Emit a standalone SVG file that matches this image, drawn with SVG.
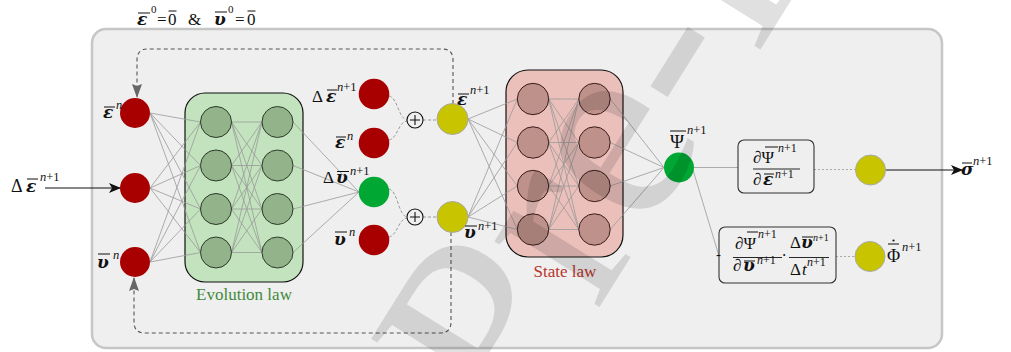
<svg xmlns="http://www.w3.org/2000/svg" width="1011" height="352" viewBox="0 0 1011 352">
<style>
.t{font-family:"Liberation Serif","DejaVu Serif",serif;fill:#111}
.m{font-size:17px}
.s{font-size:12.5px}
.bi{font-family:"DejaVu Serif",serif;font-weight:bold;font-style:italic;font-size:17px}
.i{font-style:italic}
.ov{stroke:#111;stroke-width:1}
.net{fill:none;stroke:#999;stroke-width:0.8}
.dash{fill:none;stroke:#999;stroke-width:1;stroke-dasharray:3 2}
.dot{fill:none;stroke:#aaa;stroke-width:1;stroke-dasharray:2 2}
.loop{fill:none;stroke:#555;stroke-width:1.1;stroke-dasharray:4 3}
.red{fill:#a80000}
.grn{fill:#00a833}
.yel{fill:#c9c400;stroke:#a8a8a8;stroke-width:1}
.gn{fill:#93b38a;stroke:#2c3a28;stroke-width:1}
.rn{fill:#be918a;stroke:#3a1c1a;stroke-width:1}
.fb{stroke:#111;stroke-width:0.9}
.wm{font-family:"Liberation Serif",serif;font-size:270px;fill:#000;fill-opacity:0.12}
</style>
<defs>
<marker id="ab" viewBox="0 0 12 10" refX="11" refY="5" markerWidth="12" markerHeight="10" markerUnits="userSpaceOnUse" orient="auto">
<path d="M0 0L12 5L0 10L3 5Z" fill="#111"/>
</marker>
<marker id="ag" viewBox="0 0 14 10" refX="13" refY="5" markerWidth="14" markerHeight="10" markerUnits="userSpaceOnUse" orient="auto">
<path d="M0 0L14 5L0 10L2 5Z" fill="#666"/>
</marker>
</defs>

<rect x="92" y="29" width="850" height="319" rx="14" fill="#efefef" stroke="#c6c6c6" stroke-width="2.5"/>

<g id="init-text">
<text class="t bi" x="137" y="25">ε</text>
<line class="ov" x1="138" y1="13" x2="150" y2="13"/>
<text class="t" font-size="11" x="151" y="13">0</text>
<text class="t m" x="157" y="25">=</text>
<text class="t m" x="168" y="25">0</text>
<line class="ov" x1="168.5" y1="11" x2="176.5" y2="11"/>
<text class="t m" x="188" y="25">&amp;</text>
<text class="t bi" x="214" y="25">υ</text>
<line class="ov" x1="215" y1="12" x2="227" y2="12"/>
<text class="t" font-size="11" x="228" y="13">0</text>
<text class="t m" x="235" y="25">=</text>
<text class="t m" x="247" y="25">0</text>
<line class="ov" x1="247.5" y1="11" x2="255.5" y2="11"/>
</g>

<g id="evolution-box">
<rect x="185" y="93" width="118" height="189" rx="20" fill="#c3e3bf" stroke="#111" stroke-width="1.2"/>
<text class="t" font-size="17" style="fill:#3f8a3a" x="244" y="300" text-anchor="middle">Evolution law</text>
</g>
<g id="state-box">
<rect x="506" y="70" width="117" height="187" rx="22" fill="#ebc0bb" stroke="#111" stroke-width="1.2"/>
<text class="t" font-size="17" style="fill:#b8352b" x="565" y="277" text-anchor="middle">State law</text>
</g>

<g id="connectors">
<path class="net" d="M150 113L200.5 122M150 113L200.5 165.5M150 113L200.5 209M150 113L200.5 252.5M150 188L200.5 122M150 188L200.5 165.5M150 188L200.5 209M150 188L200.5 252.5M150 262L200.5 122M150 262L200.5 165.5M150 262L200.5 209M150 262L200.5 252.5"/>
<path class="net" d="M231.5 122L262 122M231.5 122L262 165.5M231.5 122L262 209M231.5 122L262 252.5M231.5 165.5L262 122M231.5 165.5L262 165.5M231.5 165.5L262 209M231.5 165.5L262 252.5M231.5 209L262 122M231.5 209L262 165.5M231.5 209L262 209M231.5 209L262 252.5M231.5 252.5L262 122M231.5 252.5L262 165.5M231.5 252.5L262 209M231.5 252.5L262 252.5"/>
<path class="net" d="M293 122L359 192M293 165.5L359 192M293 209L359 192M293 252.5L359 192"/>
<path class="dash" d="M389 96C398 98 398 118 407 120M389 140C398 138 398 122 407 121M423 120H437M389 189C398 191 398 215 407 217M389 237C398 235 398 219 407 218M423 217H437"/>
<path class="net" d="M468 119L517.3 99M468 119L517.3 142.5M468 119L517.3 186M468 119L517.3 229.5M468 217L517.3 99M468 217L517.3 142.5M468 217L517.3 186M468 217L517.3 229.5"/>
<path class="net" d="M548.7 99L578.8 99M548.7 99L578.8 142.5M548.7 99L578.8 186M548.7 99L578.8 229.5M548.7 142.5L578.8 99M548.7 142.5L578.8 142.5M548.7 142.5L578.8 186M548.7 142.5L578.8 229.5M548.7 186L578.8 99M548.7 186L578.8 142.5M548.7 186L578.8 186M548.7 186L578.8 229.5M548.7 229.5L578.8 99M548.7 229.5L578.8 142.5M548.7 229.5L578.8 186M548.7 229.5L578.8 229.5"/>
<path class="net" d="M610.2 99L664 167.5M610.2 142.5L664 167.5M610.2 186L664 167.5M610.2 229.5L664 167.5"/>
<path class="net" d="M694 167.5L738 167.5M693 170L719 256"/>
<path class="dot" d="M814 169.5H855M836 256.5H855"/>
<path class="loop" d="M453 104V60Q453 49 442 49H148Q137 49 137 60V97" marker-end="url(#ag)"/>
<path class="loop" d="M451 232V322Q451 333 440 333H145Q134 333 134 322V278" marker-end="url(#ag)"/>
<line x1="45" y1="188" x2="120" y2="188" stroke="#111" stroke-width="1.1" marker-end="url(#ab)"/>
<line x1="886" y1="170" x2="962" y2="170" stroke="#111" stroke-width="1.1" marker-end="url(#ab)"/>
</g>

<g id="in-eps"><circle class="red" cx="135" cy="113" r="15"/>
<text class="t bi" x="103" y="118">ε</text><line class="ov" x1="104" y1="107" x2="115" y2="107"/><text class="t s i" x="116" y="109">n</text></g>
<g id="in-deps"><circle class="red" cx="135" cy="188" r="15"/>
<text class="t" x="11" y="192" font-size="18">Δ</text><text class="t bi" x="26" y="192">ε</text><line class="ov" x1="27" y1="179" x2="38" y2="179"/><text class="t s" x="40" y="181"><tspan font-style="italic">n</tspan>+1</text></g>
<g id="in-v"><circle class="red" cx="135" cy="262" r="15"/>
<text class="t bi" x="97" y="268">υ</text><line class="ov" x1="98" y1="254" x2="110" y2="254"/><text class="t s i" x="113" y="259">n</text></g>

<g id="evo-neurons">
<circle class="gn" cx="216" cy="122" r="15.5"/><circle class="gn" cx="216" cy="165.5" r="15.5"/><circle class="gn" cx="216" cy="209" r="15.5"/><circle class="gn" cx="216" cy="252.5" r="15.5"/>
<circle class="gn" cx="277.5" cy="122" r="15.5"/><circle class="gn" cx="277.5" cy="165.5" r="15.5"/><circle class="gn" cx="277.5" cy="209" r="15.5"/><circle class="gn" cx="277.5" cy="252.5" r="15.5"/>
</g>

<g id="mid-deps"><circle class="red" cx="374" cy="94" r="15.3"/>
<text class="t m" x="312" y="102">Δ</text><text class="t bi" x="326" y="102">ε</text><line class="ov" x1="327" y1="90" x2="337" y2="90"/><text class="t s" x="337" y="91"><tspan font-style="italic">n</tspan>+1</text></g>
<g id="mid-eps"><circle class="red" cx="374" cy="143" r="15.3"/>
<text class="t bi" x="335" y="148">ε</text><line class="ov" x1="336" y1="137" x2="346" y2="137"/><text class="t s i" x="347" y="140">n</text></g>
<g id="mid-dv"><circle class="grn" cx="374" cy="192" r="15.3"/>
<text class="t m" x="323" y="183">Δ</text><text class="t bi" x="336" y="183">υ</text><line class="ov" x1="337" y1="171.5" x2="349" y2="171.5"/><text class="t s" x="350" y="175"><tspan font-style="italic">n</tspan>+1</text></g>
<g id="mid-v"><circle class="red" cx="374" cy="240" r="15.3"/>
<text class="t bi" x="334" y="245">υ</text><line class="ov" x1="335" y1="232" x2="347" y2="232"/><text class="t s i" x="349" y="236">n</text></g>

<g id="sum1"><circle cx="415" cy="120" r="8" fill="#efefef" stroke="#111" stroke-width="1.1"/><path d="M410 120H420M415 115V125" stroke="#111" stroke-width="1.1"/></g>
<g id="sum2"><circle cx="415" cy="217" r="8" fill="#efefef" stroke="#111" stroke-width="1.1"/><path d="M410 217H420M415 212V222" stroke="#111" stroke-width="1.1"/></g>

<g id="eps-new"><circle class="yel" cx="452.5" cy="119" r="15.5"/>
<text class="t bi" x="457" y="105">ε</text><line class="ov" x1="458" y1="94" x2="469" y2="94"/><text class="t s" x="470" y="94"><tspan font-style="italic">n</tspan>+1</text></g>
<g id="v-new"><circle class="yel" cx="452.5" cy="217" r="15.5"/>
<text class="t bi" x="464" y="238">υ</text><line class="ov" x1="465" y1="226" x2="477" y2="226"/><text class="t s" x="478" y="230"><tspan font-style="italic">n</tspan>+1</text></g>

<g id="state-neurons">
<circle class="rn" cx="533" cy="99" r="15.7"/><circle class="rn" cx="533" cy="142.5" r="15.7"/><circle class="rn" cx="533" cy="186" r="15.7"/><circle class="rn" cx="533" cy="229.5" r="15.7"/>
<circle class="rn" cx="594.5" cy="99" r="15.7"/><circle class="rn" cx="594.5" cy="142.5" r="15.7"/><circle class="rn" cx="594.5" cy="186" r="15.7"/><circle class="rn" cx="594.5" cy="229.5" r="15.7"/>
</g>

<g id="psi"><circle class="grn" cx="679" cy="167.5" r="15"/>
<text class="t" font-size="19" x="670" y="148">Ψ</text><line class="ov" x1="670" y1="131" x2="686" y2="131"/><text class="t s" x="687" y="134"><tspan font-style="italic">n</tspan>+1</text></g>

<g id="stress-box">
<rect x="738" y="140" width="76" height="53" rx="6" fill="#efefef" stroke="#333" stroke-width="1.1"/>
<text class="t m" x="753" y="163">∂Ψ</text><line class="ov" x1="765" y1="147" x2="778" y2="147"/><text class="t" font-size="12" x="778" y="152"><tspan font-style="italic">n</tspan>+1</text>
<line class="fb" x1="753" y1="169" x2="800" y2="169"/>
<text class="t m" x="753" y="185">∂</text><text class="t bi" x="763" y="185">ε</text><line class="ov" x1="764" y1="174" x2="774" y2="174"/><text class="t" font-size="12" x="775" y="178"><tspan font-style="italic">n</tspan>+1</text>
</g>

<g id="dissip-box">
<rect x="719" y="227" width="117" height="56" rx="6" fill="#efefef" stroke="#333" stroke-width="1.1"/>
<text class="t" font-size="15" x="716" y="259">-</text>
<text class="t m" x="735" y="249">∂Ψ</text><line class="ov" x1="747" y1="232" x2="758" y2="232"/><text class="t" font-size="12" x="758" y="238"><tspan font-style="italic">n</tspan>+1</text>
<line class="fb" x1="733" y1="257.5" x2="782" y2="257.5"/>
<text class="t m" x="733" y="271">∂</text><text class="t bi" x="743" y="271">υ</text><line class="ov" x1="744" y1="261" x2="755" y2="261"/><text class="t" font-size="12" x="757" y="264"><tspan font-style="italic">n</tspan>+1</text>
<text class="t" font-size="16" x="781.5" y="261">·</text>
<text class="t m" x="790" y="248">Δ</text><text class="t bi" x="801" y="248">υ</text><line class="ov" x1="802" y1="237" x2="813" y2="237"/><text class="t" font-size="10" x="813" y="241"><tspan font-style="italic">n</tspan>+1</text>
<line class="fb" x1="789" y1="257.5" x2="829" y2="257.5"/>
<text class="t m" x="790" y="275">Δ</text><text class="t m i" x="802" y="275">t</text><text class="t" font-size="12" x="807" y="266"><tspan font-style="italic">n</tspan>+1</text>
</g>

<g id="sigma"><circle class="yel" cx="870.5" cy="170" r="15"/>
<text class="t bi" x="961" y="175">σ</text><line class="ov" x1="962" y1="163" x2="972" y2="163"/><text class="t s" x="973" y="165"><tspan font-style="italic">n</tspan>+1</text></g>
<g id="phi"><circle class="yel" cx="870" cy="256.5" r="15"/>
<text class="t" font-size="18" x="887" y="262">Φ</text><line class="ov" x1="888" y1="244" x2="899" y2="244"/><circle cx="893.5" cy="240.5" r="1.1" fill="#111"/><text class="t s" x="902" y="251"><tspan font-style="italic">n</tspan>+1</text></g>

<g id="watermark" transform="translate(517 439) rotate(-58)"><text class="wm" x="0" y="0">Pre-Print</text></g>
</svg>
